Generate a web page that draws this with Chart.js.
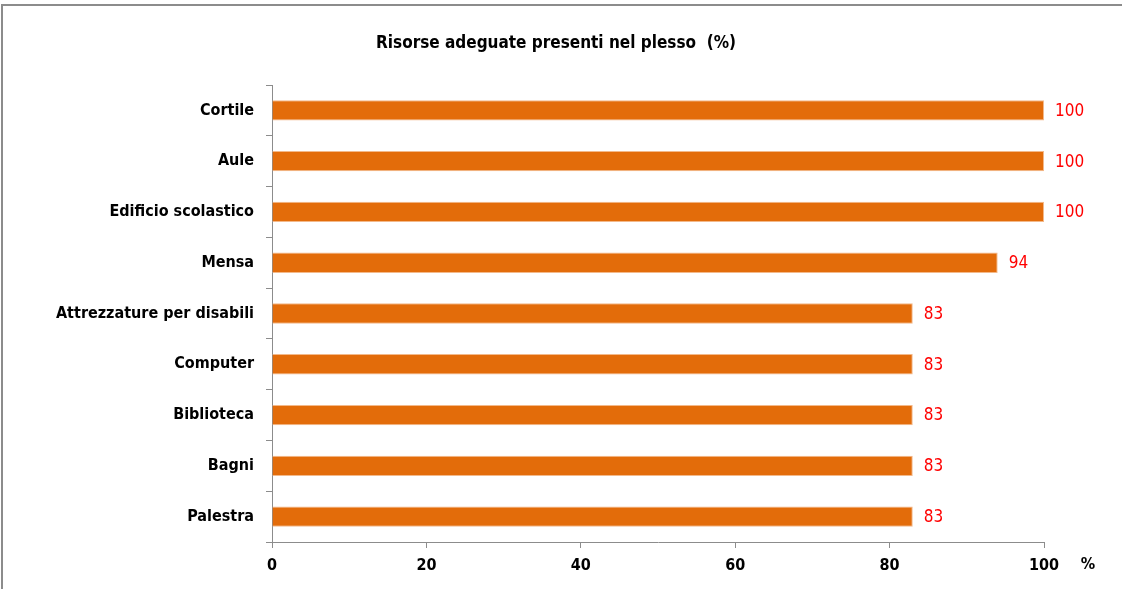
<!DOCTYPE html>
<html>
<head>
<meta charset="utf-8">
<script src="https://cdn.jsdelivr.net/npm/chart.js@4/dist/chart.umd.min.js"></script>
<style>
  html, body { margin: 0; padding: 0; background: #fff; }
  #wrap { position: relative; width: 1122px; height: 589px; }
</style>
</head>
<body>
<div id="wrap"><canvas id="chart" width="1122" height="589"></canvas></div>
<script>
// data
var categories = ["Cortile", "Aule", "Edificio scolastico", "Mensa", "Attrezzature per disabili", "Computer", "Biblioteca", "Bagni", "Palestra"];
var values = [100, 100, 100, 94, 83, 83, 83, 83, 83];
var xTicks = [0, 20, 40, 60, 80, 100];
var title = "Risorse adeguate presenti nel plesso  (%)";
var unitLabel = "%";

var FONT = "'Liberation Sans Narrow', 'DejaVu Sans Condensed', sans-serif";

// frame, title, unit label and value labels
var extras = {
  id: "extras",
  beforeDraw: function (chart) {
    var ctx = chart.ctx;
    ctx.save();
    ctx.strokeStyle = "#8c8c8c";
    ctx.lineWidth = 2;
    ctx.beginPath();
    ctx.moveTo(2, 589);
    ctx.lineTo(2, 5);
    ctx.lineTo(1122, 5);
    ctx.stroke();
    ctx.restore();
  },
  afterDraw: function (chart) {
    var ctx = chart.ctx;
    var xs = chart.scales.x;
    ctx.save();
    ctx.fillStyle = "#000";
    ctx.font = "bold 17px " + FONT;
    ctx.textAlign = "center";
    ctx.textBaseline = "middle";
    ctx.fillText(title, 556, 44);

    ctx.font = "bold 16px " + FONT;
    ctx.fillText(unitLabel, 1088, 565);

    ctx.fillStyle = "#ff0000";
    ctx.font = "17px " + FONT;
    ctx.textAlign = "left";
    var meta = chart.getDatasetMeta(0);
    meta.data.forEach(function (bar, i) {
      ctx.fillText(String(values[i]), bar.x + 11, bar.y + 1);
    });
    ctx.restore();
  }
};

var chart = new Chart(document.getElementById("chart"), {
  type: "bar",
  data: {
    labels: categories,
    datasets: [{
      data: values,
      backgroundColor: "#e36c0a",
      borderColor: "#f3b98a",
      borderWidth: 1,
      barPercentage: 0.4,
      categoryPercentage: 1
    }]
  },
  options: {
    indexAxis: "y",
    responsive: false,
    animation: false,
    events: [],
    layout: { padding: { top: 85, right: 78, bottom: 0, left: 0 } },
    plugins: {
      legend: { display: false },
      tooltip: { enabled: false },
      title: { display: false }
    },
    scales: {
      x: {
        min: 0,
        max: 100,
        afterBuildTicks: function (scale) {
          scale.ticks = xTicks.map(function (v) { return { value: v }; });
        },
        afterFit: function (scale) { scale.height = 47; },
        grid: { drawOnChartArea: false, drawTicks: true, tickLength: 6, color: "#8c8c8c" },
        border: { display: true, color: "#8c8c8c", width: 1 },
        ticks: { color: "#000", padding: 8, font: { family: FONT, size: 16, weight: "bold" } }
      },
      y: {
        afterFit: function (scale) { scale.width = 272; },
        grid: { drawOnChartArea: false, drawTicks: true, tickLength: 6, offset: true, color: "#8c8c8c" },
        border: { display: true, color: "#8c8c8c", width: 1 },
        ticks: { color: "#000", padding: 12, font: { family: FONT, size: 16, weight: "bold" } }
      }
    }
  },
  plugins: [extras]
});
</script>
</body>
</html>
